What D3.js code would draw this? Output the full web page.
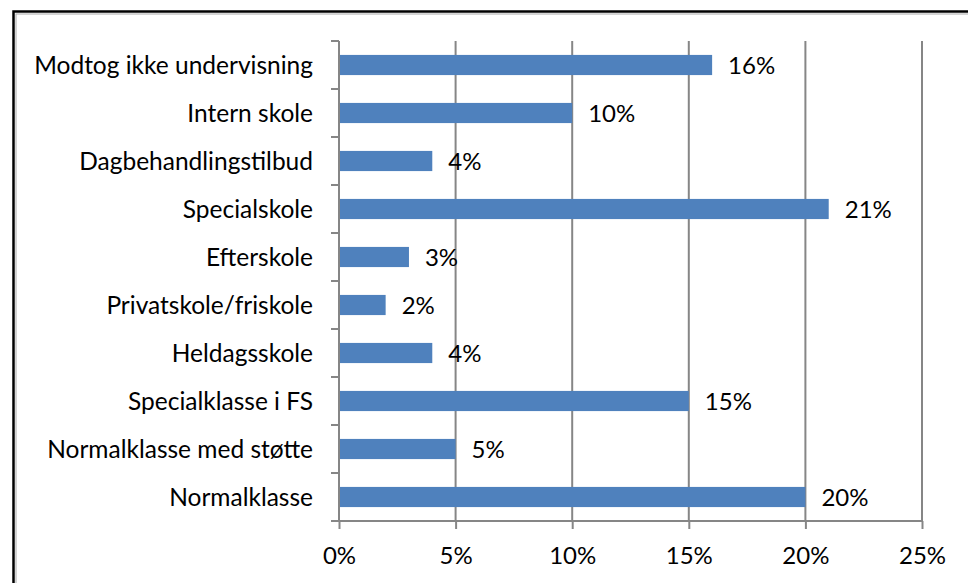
<!DOCTYPE html>
<html>
<head>
<meta charset="utf-8">
<script src="https://cdn.jsdelivr.net/npm/d3@7"></script>
<style>
  body { margin: 0; background: #fff; }
  text { font-family: Lato, "Open Sans", sans-serif; fill: #000; }
</style>
</head>
<body>
<script>
const wSvg = 968, hSvg = 583;

// data, top to bottom as drawn
const categories = ["Modtog ikke undervisning", "Intern skole", "Dagbehandlingstilbud", "Specialskole",
    "Efterskole", "Privatskole/friskole", "Heldagsskole", "Specialklasse i FS",
    "Normalklasse med støtte", "Normalklasse"];
const values = [16, 10, 4, 21, 3, 2, 4, 15, 5, 20];
const xTicks = [0, 5, 10, 15, 20, 25];

const plot = { left: 339, right: 922, top: 41, bottom: 521 };
const fontSize = 24;

const svg = d3.select("body").append("svg")
    .attr("width", wSvg)
    .attr("height", hSvg);

// outer frame
svg.append("rect")
    .attr("x", 13.5).attr("y", 11.5)
    .attr("width", 970).attr("height", 600)
    .attr("fill", "none")
    .attr("stroke", "#000")
    .attr("stroke-width", 2.5);
svg.append("rect")
    .attr("x", 16).attr("y", 14)
    .attr("width", 970).attr("height", 600)
    .attr("fill", "none")
    .attr("stroke", "#aaa")
    .attr("stroke-width", 1);

let x = d3.scaleLinear()
    .domain([0, 25])
    .range([plot.left, plot.right]);

let y = d3.scaleBand()
    .domain(categories)
    .range([plot.top, plot.bottom])
    .paddingInner(0.58)
    .paddingOuter(0.29);

// vertical gridlines
svg.append("g")
    .selectAll("line")
    .data(xTicks.slice(1))
    .enter()
    .append("line")
    .attr("x1", d => x(d)).attr("x2", d => x(d))
    .attr("y1", plot.top).attr("y2", plot.bottom)
    .attr("stroke", "#868686")
    .attr("stroke-width", 2);

// bars
svg.append("g")
    .selectAll("rect")
    .data(values)
    .enter()
    .append("rect")
    .attr("x", x(0))
    .attr("y", (d, i) => y(categories[i]))
    .attr("width", d => x(d) - x(0))
    .attr("height", y.bandwidth())
    .attr("fill", "#4f81bd");

// value labels
svg.append("g")
    .selectAll("text")
    .data(values)
    .enter()
    .append("text")
    .attr("x", d => x(d) + 16)
    .attr("y", (d, i) => y(categories[i]) + y.bandwidth() / 2)
    .attr("dy", "0.36em")
    .attr("font-size", fontSize)
    .text(d => d + "%");

// x axis
let axisX = d3.axisBottom(x)
    .tickValues(xTicks)
    .tickFormat(d => d + "%")
    .tickSize(8)
    .tickPadding(18);
let gX = svg.append("g")
    .attr("transform", `translate(0, ${plot.bottom})`)
    .call(axisX);
gX.select(".domain").remove();
gX.append("line")
    .attr("x1", plot.left - 8).attr("x2", plot.right)
    .attr("stroke", "#868686").attr("stroke-width", 2);
gX.selectAll(".tick line").attr("stroke", "#868686").attr("stroke-width", 2);
gX.selectAll(".tick text").attr("font-size", fontSize).attr("font-family", "Lato, 'Open Sans', sans-serif");

// y axis with ticks between categories
let gY = svg.append("g");
gY.append("line")
    .attr("x1", plot.left).attr("x2", plot.left)
    .attr("y1", plot.top).attr("y2", plot.bottom)
    .attr("stroke", "#868686").attr("stroke-width", 2);
let step = y.step();
gY.selectAll("line.tk")
    .data(d3.range(categories.length + 1))
    .enter()
    .append("line")
    .attr("class", "tk")
    .attr("x1", plot.left - 8).attr("x2", plot.left)
    .attr("y1", i => plot.top + i * step)
    .attr("y2", i => plot.top + i * step)
    .attr("stroke", "#868686").attr("stroke-width", 2);
gY.selectAll("text")
    .data(categories)
    .enter()
    .append("text")
    .attr("x", plot.left - 26)
    .attr("y", d => y(d) + y.bandwidth() / 2)
    .attr("dy", "0.36em")
    .attr("text-anchor", "end")
    .attr("font-size", 24.5)
    .text(d => d);
</script>
</body>
</html>
